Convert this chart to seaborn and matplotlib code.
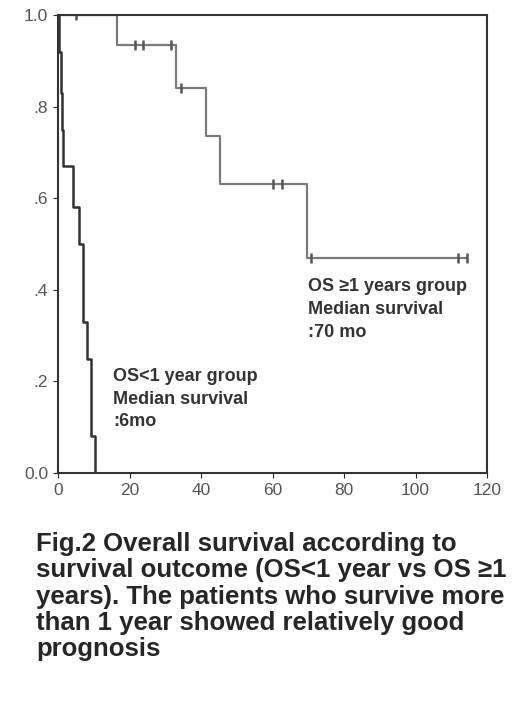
import matplotlib
matplotlib.use("Agg")
import matplotlib.pyplot as plt
import seaborn as sns
import pandas as pd

# survival curves (months, survival fraction)
good_t = [0, 16.5, 33.1, 41.5, 45.3, 69.6, 114.4]
good_s = [1.0, 0.935, 0.84, 0.735, 0.63, 0.47, 0.47]
good_cens_t = [5, 21.5, 23.8, 31.7, 34.3, 60.2, 62.6, 70.7, 112, 114.4]
good_cens_s = [1.0, 0.935, 0.935, 0.935, 0.84, 0.63, 0.63, 0.47, 0.47, 0.47]

poor_t = [0, 0.3, 0.8, 1.2, 1.5, 4.3, 6.0, 7.0, 8.0, 9.3, 10.3]
poor_s = [1.0, 0.92, 0.83, 0.75, 0.67, 0.58, 0.50, 0.33, 0.25, 0.08, 0.0]

x_ticks = [0, 20, 40, 60, 80, 100, 120]
x_labels = ["0", "20", "40", "60", "80", "100", "120"]
y_ticks = [0.0, 0.2, 0.4, 0.6, 0.8, 1.0]
y_labels = ["0.0", ".2", ".4", ".6", ".8", "1.0"]

caption = ("Fig.2 Overall survival according to\n"
           "survival outcome (OS<1 year vs OS \u22651\n"
           "years). The patients who survive more\n"
           "than 1 year showed relatively good\n"
           "prognosis")

sns.set_style("ticks")
plt.rcParams['font.family'] = ['Liberation Sans', 'DejaVu Sans']

fig = plt.figure(figsize=(5.2, 7.09), dpi=100)
ax = fig.add_axes([58 / 520, 1 - 473 / 709, (487 - 58) / 520, (473 - 15) / 709])

good = pd.DataFrame({"t": good_t, "s": good_s})
poor = pd.DataFrame({"t": poor_t, "s": poor_s})
sns.lineplot(data=good, x="t", y="s", drawstyle="steps-post", color="#7a7a7a", lw=1.6, ax=ax)
sns.lineplot(data=poor, x="t", y="s", drawstyle="steps-post", color="#333333", lw=1.8, ax=ax)
ax.plot(good_cens_t, good_cens_s, "|", color="#555555", ms=7, mew=1.8)

ax.set_xlim(0, 120)
ax.set_ylim(0, 1.0)
ax.set_xticks(x_ticks)
ax.set_xticklabels(x_labels, fontsize=12.5, color="#555555")
ax.set_yticks(y_ticks)
ax.set_yticklabels(y_labels, fontsize=12.5, color="#555555")
ax.set_xlabel("")
ax.set_ylabel("")
for sp in ax.spines.values():
    sp.set_visible(True)
    sp.set_color("#333333")
    sp.set_linewidth(1.5)

ax.text(70, 0.425, "OS \u22651 years group\nMedian survival\n:70 mo", fontsize=13,
        fontweight="bold", color="#333333", va="top", linespacing=1.45)
ax.text(15.5, 0.23, "OS<1 year group\nMedian survival\n:6mo", fontsize=13,
        fontweight="bold", color="#333333", va="top", linespacing=1.45)

fig.text(36 / 520, 1 - 532 / 709, caption, fontsize=18.5, fontweight="bold",
         va="top", ha="left", linespacing=1.12)

fig.savefig("out.png", dpi=100)
